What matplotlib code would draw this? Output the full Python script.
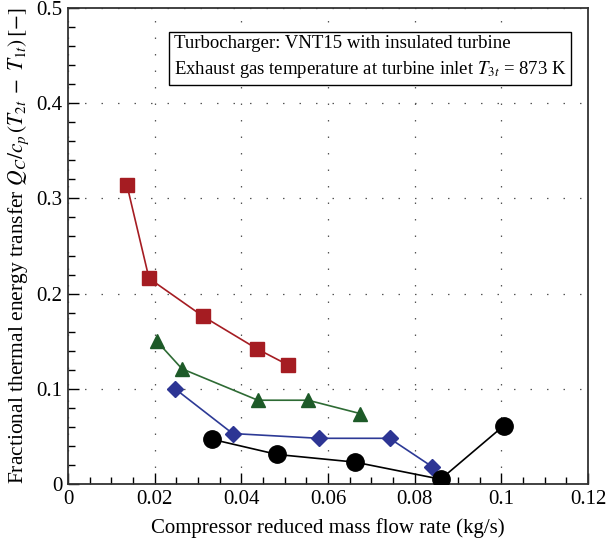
import matplotlib
matplotlib.use("Agg")
import matplotlib.pyplot as plt
from matplotlib.ticker import MultipleLocator

plt.rcParams['font.family'] = ['Liberation Serif', 'DejaVu Serif']
plt.rcParams['mathtext.fontset'] = 'stix'

# Data
red_x = [0.0136, 0.0187, 0.0312, 0.0436, 0.0508]
red_y = [0.314, 0.216, 0.176, 0.142, 0.125]

green_x = [0.0205, 0.0263, 0.0438, 0.0554, 0.0674]
green_y = [0.150, 0.121, 0.088, 0.088, 0.074]

blue_x = [0.0247, 0.0380, 0.0579, 0.0742, 0.0841]
blue_y = [0.100, 0.053, 0.048, 0.048, 0.018]

black_x = [0.0332, 0.0483, 0.0662, 0.0860, 0.1005]
black_y = [0.047, 0.031, 0.023, 0.005, 0.061]

xticks = [0, 0.02, 0.04, 0.06, 0.08, 0.1, 0.12]
xticklabels = ['0', '0.02', '0.04', '0.06', '0.08', '0.1', '0.12']
yticks = [0, 0.1, 0.2, 0.3, 0.4, 0.5]
yticklabels = ['0', '0.1', '0.2', '0.3', '0.4', '0.5']

fig = plt.figure(figsize=(6.07, 5.5), dpi=100)
ax = fig.add_axes([68/607, 66/550, 520/607, 476/550])

ax.plot(red_x, red_y, color='#a51c22', lw=1.2, marker='s', ms=9.5, zorder=3)
ax.plot(green_x, green_y, color='#2e6b34', lw=1.2, marker='^', ms=10.5,
        markerfacecolor='#1d5a28', markeredgecolor='#1d5a28', zorder=3)
ax.plot(blue_x, blue_y, color='#2d3a96', lw=1.2, marker='D', ms=8.5,
        markerfacecolor='#2d3594', markeredgecolor='#2d3594', zorder=3)
ax.plot(black_x, black_y, color='black', lw=1.2, marker='o', ms=12.5, zorder=3)

ax.set_xlim(0, 0.12)
ax.set_ylim(0, 0.5)
ax.set_xticks(xticks)
ax.set_xticklabels(xticklabels)
ax.set_yticks(yticks)
ax.set_yticklabels(yticklabels)
ax.xaxis.set_minor_locator(MultipleLocator(0.005))
ax.yaxis.set_minor_locator(MultipleLocator(0.02))
ax.tick_params(which='major', direction='in', length=8, width=1.0, labelsize=15,
               top=False, right=False, pad=4)
ax.tick_params(which='minor', direction='in', length=5, width=1.0, top=False, right=False)

for s in ax.spines.values():
    s.set_linewidth(1.3)
    s.set_color('#333333')

ax.grid(True, which='major', color='#555555', lw=0.9, linestyle=(0, (1.2, 12)))

ax.set_xlabel('Compressor reduced mass flow rate (kg/s)', fontsize=15, labelpad=7)
ax.set_ylabel(r'Fractional thermal energy transfer $Q_C/c_p\,(T_{2t}\;-\;T_{1t})\,[-]$',
              fontsize=15.5, labelpad=4)

ax.text(0.203, 0.944,
        'Turbocharger: VNT15 with insulated turbine\n'
        r'Exhaust gas temperature at turbine inlet $T_{3t}$ = 873 K',
        transform=ax.transAxes, fontsize=13.5, va='top', ha='left',
        linespacing=1.5,
        bbox=dict(boxstyle='square,pad=0.25', facecolor='white', edgecolor='black', lw=1.0),
        zorder=5)

fig.savefig('out.png', dpi=100)
